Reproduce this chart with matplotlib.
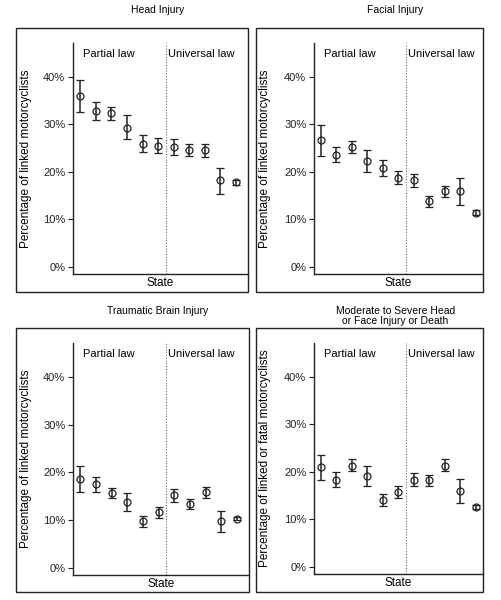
import numpy as np
import matplotlib
matplotlib.use("Agg")
import matplotlib.pyplot as plt
from matplotlib.patches import Rectangle

plt.rcParams['font.family'] = ['Liberation Sans', 'DejaVu Sans']

# data: point estimate, upper and lower CI (percent), states 1..11
titles = ["Head Injury", "Facial Injury", "Traumatic Brain Injury",
          "Moderate to Severe Head\nor Face Injury or Death"]
ylabels = ["Percentage of linked motorcyclists",
           "Percentage of linked motorcyclists",
           "Percentage of linked motorcyclists",
           "Percentage of linked or fatal motorcyclists"]

head_est = [36.0, 32.8, 32.3, 29.3, 25.9, 25.5, 25.3, 24.5, 24.5, 18.2, 17.8]
head_hi = [39.4, 34.6, 33.6, 31.9, 27.7, 27.2, 26.8, 25.8, 25.8, 20.8, 18.2]
head_lo = [32.6, 31.0, 31.0, 26.8, 24.1, 23.9, 23.6, 23.3, 23.2, 15.4, 17.3]

face_est = [26.6, 23.6, 25.2, 22.2, 20.8, 18.8, 18.2, 13.8, 15.9, 15.9, 11.4]
face_hi = [29.8, 25.3, 26.4, 24.5, 22.4, 20.2, 19.6, 14.9, 17.1, 18.7, 11.9]
face_lo = [23.4, 22.0, 23.9, 19.9, 19.2, 17.5, 16.8, 12.6, 14.8, 13.1, 10.9]

tbi_est = [18.6, 17.5, 15.7, 13.8, 9.8, 11.6, 15.2, 13.3, 15.8, 9.8, 10.3]
tbi_hi = [21.3, 19.0, 16.7, 15.7, 10.9, 12.8, 16.5, 14.4, 17.0, 11.9, 10.7]
tbi_lo = [15.9, 15.9, 14.6, 11.9, 8.6, 10.4, 13.8, 12.3, 14.6, 7.6, 10.0]

sev_est = [21.0, 18.3, 21.3, 19.2, 14.0, 15.7, 18.3, 18.2, 21.3, 15.9, 12.6]
sev_hi = [23.6, 19.9, 22.6, 21.3, 15.4, 17.0, 19.7, 19.3, 22.6, 18.4, 13.0]
sev_lo = [18.2, 16.8, 20.1, 17.0, 12.8, 14.5, 17.0, 17.0, 20.1, 13.4, 12.2]

series = [(head_est, head_hi, head_lo), (face_est, face_hi, face_lo),
          (tbi_est, tbi_hi, tbi_lo), (sev_est, sev_hi, sev_lo)]
yticks = [0, 10, 20, 30, 40]

W, H = 502, 600
fig = plt.figure(figsize=(W / 100, H / 100), dpi=100)

# pixel layout: outer box (l, r, t, b), inner axes (l, r, t, b), xlim
boxes = [(16, 248, 28, 292), (256, 483, 28, 292),
         (16, 249, 328, 592), (256, 483, 328, 592)]
axbox = [(73, 248, 43, 274), (314, 483, 43, 274),
         (73, 249, 343, 575), (314, 483, 343, 574)]
xlims = [(0.53, 11.77), (0.58, 11.45), (0.53, 11.77), (0.58, 11.45)]
title_y = [10, 10, 311, 316]
ylab_x = [26, 265, 26, 265]
col = '#222222'

for i in range(4):
    bl, br, bt, bb = boxes[i]
    fig.patches.append(Rectangle((bl / W, 1 - bb / H), (br - bl) / W, (bb - bt) / H,
                                 transform=fig.transFigure, fill=False,
                                 edgecolor=col, linewidth=1.0))
    l, r, t, b = axbox[i]
    ax = fig.add_axes([l / W, 1 - b / H, (r - l) / W, (b - t) / H])
    est, hi, lo = series[i]
    x = np.arange(1, len(est) + 1)
    est = np.array(est)
    yerr = [est - np.array(lo), np.array(hi) - est]
    ax.errorbar(x, est, yerr=yerr, fmt='o', mfc='none', mec=col, ms=5, mew=0.9,
                ecolor=col, elinewidth=1.1, capsize=3, capthick=1.1)
    ax.axvline(6.5, color='#666666', linestyle=(0, (1, 1.5)), linewidth=0.8)
    ax.text(1.2, 44.7, "Partial law", fontsize=8, va='center', ha='left')
    ax.text(6.6, 44.7, "Universal law", fontsize=8, va='center', ha='left')
    ax.set_xlim(*xlims[i])
    ax.set_ylim(-1.5, 47.1)
    ax.set_yticks(yticks)
    ax.set_yticklabels([f"{v}%" for v in yticks], fontsize=8)
    ax.set_xticks([])
    ax.tick_params(axis='y', direction='out', length=3.5, width=0.8, pad=2, colors=col)
    for s in ['top', 'right']:
        ax.spines[s].set_visible(False)
    for s in ['left', 'bottom']:
        ax.spines[s].set_linewidth(1.0)
        ax.spines[s].set_color(col)
    ax.set_xlabel("State", fontsize=8.5, labelpad=2)
    fig.text(ylab_x[i] / W, 1 - ((t + b) / 2) / H, ylabels[i], fontsize=8.5,
             rotation=90, ha='center', va='center')
    cx = (l + r) / 2 - 3
    fig.text(cx / W, 1 - title_y[i] / H, titles[i], fontsize=7.5, ha='center',
             va='center', linespacing=1.1)

fig.savefig("out.png", dpi=100)
